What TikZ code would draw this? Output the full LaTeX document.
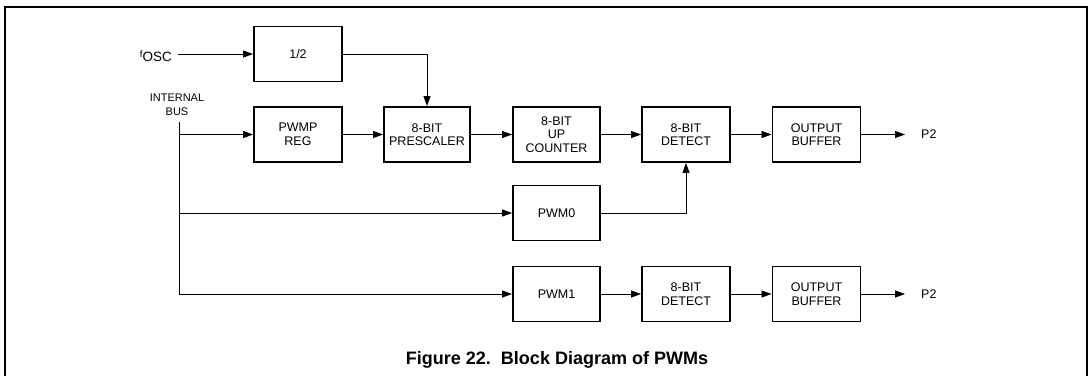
\documentclass[tikz,border=0pt]{standalone}
\usepackage{fontspec}
\setmainfont{Liberation Sans}
\usetikzlibrary{arrows.meta}
\begin{document}
\begin{tikzpicture}[x=1pt,y=-1pt,
  blk/.style={draw,line width=1.9pt,minimum width=88pt,minimum height=55pt,inner sep=1pt,
    align=center,font=\fontsize{12.5}{13.5}\selectfont},
  conn/.style={line width=0.8pt,-{Triangle[length=10pt,width=7pt]}},
  wire/.style={line width=0.8pt},
  lbl/.style={font=\fontsize{12.5}{14}\selectfont,inner sep=0pt}]
\useasboundingbox (0,0) rectangle (1092,375);
% frame
\draw[line width=1.5pt] (5,376) -- (5,7) -- (1087,7) -- (1087,376);
% blocks
\node[blk] (half) at (298,54) {1/2};
\node[blk] (pwmp) at (298,134.5) {PWMP\\REG};
\node[blk,minimum width=86pt] (pre) at (427,134.5) {8-BIT\\PRESCALER};
\node[blk,minimum width=87pt] (cnt) at (556.5,134.5) {8-BIT\\UP\\COUNTER};
\node[blk] (det1) at (686,134.5) {8-BIT\\DETECT};
\node[blk] (ob1) at (816.5,134.5) {OUTPUT\\BUFFER};
\node[blk,minimum width=87pt] (pwm0) at (556.5,213) {PWM0};
\node[blk,minimum width=87pt] (pwm1) at (556.5,294) {PWM1};
\node[blk] (det2) at (686,294) {8-BIT\\DETECT};
\node[blk] (ob2) at (816.5,294) {OUTPUT\\BUFFER};
% labels
\node[lbl,anchor=west] (p2a) at (921,134.5) {P2};
\node[lbl,anchor=west] (p2b) at (921,294) {P2};
\node[lbl,anchor=east,font=\fontsize{13.5}{15}\selectfont] (fosc) at (172,56) {\raisebox{3.5pt}{\fontsize{9.5}{10}\selectfont f}OSC};
\node[inner sep=0pt,align=center,font=\fontsize{11}{14.5}\selectfont] (ibus) at (177,105) {INTERNAL\\BUS};
\node[font=\fontsize{18}{21}\bfseries,inner sep=0pt] (cap) at (557,360) {Figure 22.\ \ Block Diagram of PWMs};
% bus
\coordinate (bustop) at (179,122);
\coordinate (busbot) at (179,294);
\draw[wire] (bustop) -- (busbot);
\draw[conn] (bustop |- pwmp.west) -- (pwmp.west);
\draw[conn] (bustop |- pwm0.west) -- (pwm0.west);
\draw[conn] (busbot) -- (pwm1.west);
% connectors
\draw[conn] (fosc.east) ++(6,-2) -- (half.west);
\draw[conn] (half.east) -| (pre.north);
\draw[conn] (pwmp) -- (pre);
\draw[conn] (pre) -- (cnt);
\draw[conn] (cnt) -- (det1);
\draw[conn] (det1) -- (ob1);
\draw[conn,shorten >=16pt] (ob1.east) -- (p2a.west);
\draw[conn] (pwm0.east) -| (det1.south);
\draw[conn] (pwm1) -- (det2);
\draw[conn] (det2) -- (ob2);
\draw[conn,shorten >=16pt] (ob2.east) -- (p2b.west);
\end{tikzpicture}
\end{document}
